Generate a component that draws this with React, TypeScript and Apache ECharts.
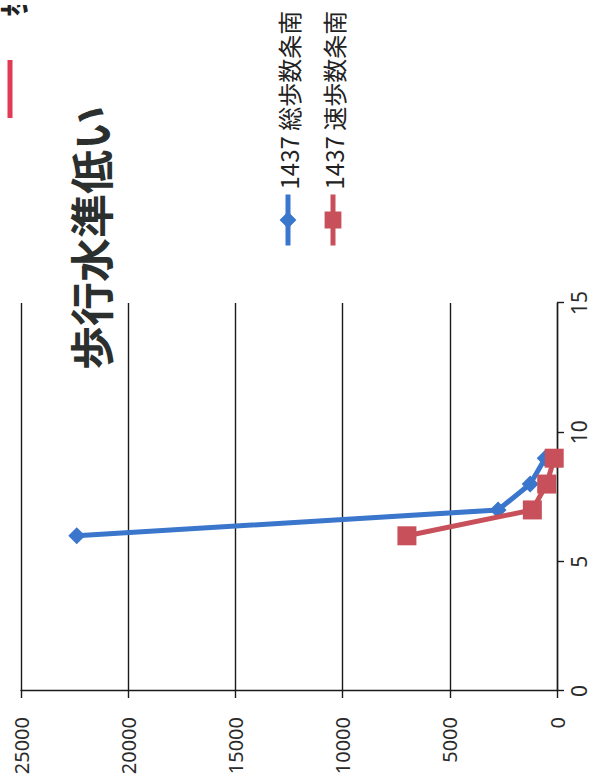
import React, { useEffect, useRef } from "react";
import * as echarts from "echarts";

// 歩数データ（横軸：区分、縦軸：歩数）
const xTicks = [0, 5, 10, 15];
const yTicks = [0, 5000, 10000, 15000, 20000, 25000];
const groupX = [6, 7, 8, 9];
const totalSteps = [22400, 2750, 1250, 550];
const fastSteps = [7000, 1150, 480, 130];
const seriesNames = ["1437 総歩数条南", "1437 速歩数条南"];
const titleText = "歩行水準低い";

const BLUE = "#3a76cc";
const RED = "#c8505a";
const INK = "#2a2a2a";
const CJK = '"Noto Sans CJK JP", "Noto Sans", sans-serif';

export default function App() {
  const ref = useRef<HTMLDivElement | null>(null);

  useEffect(() => {
    if (!ref.current) return;
    const chart = echarts.init(ref.current, null, { renderer: "svg" });
    const pairs = (vals: number[]) => groupX.map((x, i) => [x, vals[i]]);

    chart.setOption({
      animation: false,
      backgroundColor: "#ffffff",
      title: {
        text: titleText,
        left: 408,
        top: 63,
        textStyle: {
          fontFamily: CJK,
          fontWeight: "bold",
          fontSize: 44,
          color: "#2b302e",
        },
      },
      legend: {
        orient: "vertical",
        left: 530,
        top: 271,
        itemWidth: 51,
        itemHeight: 21,
        itemGap: 21,
        data: seriesNames,
        lineStyle: { width: 5 },
        textStyle: { fontFamily: CJK, fontSize: 24, color: "#222", lineHeight: 24 },
      },
      grid: { left: 92, right: 298, top: 21, bottom: 54, containLabel: false },
      xAxis: {
        type: "value",
        min: xTicks[0],
        max: xTicks[xTicks.length - 1],
        interval: 5,
        axisLine: { show: true, lineStyle: { color: "#1a1a1a", width: 1.4 } },
        axisTick: { show: true, inside: false, length: 7, lineStyle: { color: "#1a1a1a", width: 1.4 } },
        axisLabel: { margin: 11, fontSize: 21, fontFamily: '"Noto Sans", sans-serif', color: INK },
        splitLine: { show: false },
      },
      yAxis: {
        type: "value",
        min: yTicks[0],
        max: yTicks[yTicks.length - 1],
        interval: 5000,
        axisLine: { show: true, lineStyle: { color: "#1a1a1a", width: 1.4 } },
        axisTick: { show: true, inside: false, length: 7, lineStyle: { color: "#1a1a1a", width: 1.4 } },
        axisLabel: {
          margin: 26,
          fontSize: 20,
          fontFamily: '"Noto Sans", sans-serif',
          color: INK,
          formatter: (v: number) => String(v),
        },
        splitLine: { show: true, lineStyle: { color: "#1a1a1a", width: 1.4 } },
      },
      series: [
        {
          name: seriesNames[0],
          type: "line",
          data: pairs(totalSteps),
          symbol: "diamond",
          symbolSize: 17,
          lineStyle: { color: BLUE, width: 5 },
          itemStyle: { color: BLUE },
          z: 2,
        },
        {
          name: seriesNames[1],
          type: "line",
          data: pairs(fastSteps),
          symbol: "rect",
          symbolSize: 19,
          lineStyle: { color: RED, width: 5 },
          itemStyle: { color: RED },
          z: 3,
        },
      ],
      graphic: [
        {
          type: "line",
          shape: { x1: 665, y1: 10, x2: 723, y2: 10 },
          style: { stroke: "#e23a55", lineWidth: 5 },
        },
        {
          type: "text",
          x: 766,
          y: 11,
          style: {
            text: "歩",
            font: `bold 30px ${CJK}`,
            fill: "#222",
            verticalAlign: "middle",
          },
        },
      ],
    });

    return () => chart.dispose();
  }, []);

  return (
    <div
      style={{
        position: "fixed",
        left: 0,
        top: 0,
        width: 611,
        height: 778,
        overflow: "hidden",
        background: "#ffffff",
      }}
    >
      <div
        ref={ref}
        style={{
          position: "absolute",
          left: 0,
          top: 0,
          width: 778,
          height: 611,
          transformOrigin: "0 0",
          transform: "translate(0px, 783px) rotate(-90deg)",
        }}
      />
    </div>
  );
}
